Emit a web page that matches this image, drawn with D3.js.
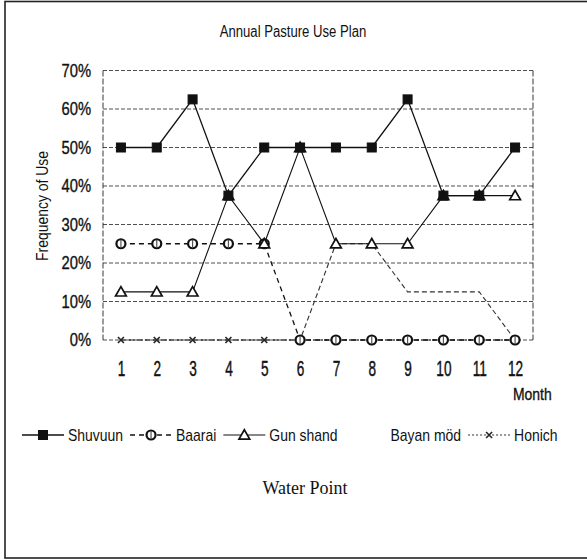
<!DOCTYPE html>
<html><head><meta charset="utf-8">
<script src="https://cdn.jsdelivr.net/npm/d3@7"></script>
<style>
body{margin:0;background:#fff;}
svg{display:block;}
</style></head>
<body><svg id="c" width="587" height="560"></svg>
<script>
// ---- data ----
const months = ["1","2","3","4","5","6","7","8","9","10","11","12"];
const shuvuun  = [0.5,0.5,0.625,0.375,0.5,0.5,0.5,0.5,0.625,0.375,0.375,0.5];
const baarai   = [0.25,0.25,0.25,0.25,0.25,0,0,0,0,0,0,0];
const gunShand = [0.125,0.125,0.125,0.375,0.25,0.5,0.25,0.25,0.25,0.375,0.375,0.375];
const bayanMod = [0,0,0,0,0,0,0.25,0.25,0.125,0.125,0.125,0];
const honich   = [0,0,0,0,0,0,0,0,0,0,0,0];
const yTicks = [0,0.1,0.2,0.3,0.4,0.5,0.6,0.7];
const seriesNames = ["Shuvuun","Baarai","Gun shand","Bayan möd","Honich"];
const titleText = "Annual Pasture Use Plan";
const yLabel = "Frequency of Use";
const xLabel = "Month";
const footer = "Water Point";

const series = [
  {name:seriesNames[0], values:shuvuun,  marker:"square",   dash:null,  color:"#111", width:1.3, sample:true},
  {name:seriesNames[1], values:baarai,   marker:"circle",   dash:"5,4", color:"#111", width:1.3, sample:true},
  {name:seriesNames[2], values:gunShand, marker:"triangle", dash:null,  color:"#111", width:1.1, sample:true},
  {name:seriesNames[3], values:bayanMod, marker:null,       dash:"5,3", color:"#333", width:1.1, sample:false},
  {name:seriesNames[4], values:honich,   marker:"cross",    dash:"2,2", color:"#333", width:1,   sample:true}
];

const SANS = "'Liberation Sans',Arial,sans-serif";
const SERIF = "'Liberation Serif','Times New Roman',serif";
function narrow(sel, f){
  sel.each(function(){
    const n=this; const w=n.getComputedTextLength();
    n.__w = w*(f||0.82);
    d3.select(n).attr("textLength",n.__w).attr("lengthAdjust","spacingAndGlyphs");
  });
  return sel;
}
function heavy(sel){ return sel.attr("stroke","#111").attr("stroke-width",0.35); }

const svg = d3.select("#c");
const L=103, R=533, T=70.5, B=340;
const x = d3.scalePoint().domain(months).range([L,R]).padding(0.5);
const y = d3.scaleLinear().domain([0,0.7]).range([B,T]);

// outer frame
svg.append("rect").attr("x",5).attr("y",1.5).attr("width",620).attr("height",556.5)
  .attr("fill","none").attr("stroke","#222").attr("stroke-width",1.6);

// title
narrow(svg.append("text").attr("x",293).attr("y",37).attr("text-anchor","middle")
  .style("font-family",SANS).attr("font-size",16).attr("fill","#111").text(titleText));

// gridlines
svg.append("g").selectAll("line").data(yTicks).join("line")
  .attr("x1",L).attr("x2",R).attr("y1",d=>y(d)).attr("y2",d=>y(d))
  .attr("stroke","#222").attr("stroke-width",0.8).attr("stroke-dasharray","4,2");
// plot left/right borders
[L,R].forEach(xx=>svg.append("line").attr("x1",xx).attr("x2",xx).attr("y1",T).attr("y2",B)
  .attr("stroke","#222").attr("stroke-width",0.9).attr("stroke-dasharray","6,2"));

// y axis
const ya = svg.append("g").attr("transform",`translate(${L},0)`)
  .call(d3.axisLeft(y).tickValues(yTicks).tickSize(0).tickPadding(12).tickFormat(d3.format(".0%")));
ya.select(".domain").remove();
heavy(narrow(ya.selectAll("text").attr("font-size",18).style("font-family",SANS).attr("fill","#111")));

// x axis
const xa = svg.append("g").attr("transform",`translate(0,376)`)
  .call(d3.axisBottom(x).tickSize(0));
xa.select(".domain").remove();
heavy(xa.selectAll("text").attr("y",0).attr("dy",0).attr("font-size",17)
  .style("font-family",SANS).attr("fill","#111")
  .attr("transform","scale(0.8,1.25)"));

// axis titles
narrow(svg.append("text").attr("transform","translate(48,206) rotate(-90)").attr("text-anchor","middle")
  .style("font-family",SANS).attr("font-size",17).attr("fill","#111").text(yLabel));
heavy(narrow(svg.append("text").attr("x",513).attr("y",400).style("font-family",SANS).attr("font-size",17)
  .attr("fill","#111").text(xLabel)));

// markers
function drawMarker(g, type, cx, cy){
  if(type==="square"){
    g.append("rect").attr("x",cx-4.5).attr("y",cy-4.5).attr("width",9).attr("height",9)
      .attr("fill","#111").attr("stroke","#111");
  } else if(type==="circle"){
    g.append("circle").attr("cx",cx).attr("cy",cy).attr("r",4.5).attr("fill","#fff")
      .attr("stroke","#111").attr("stroke-width",2.2);
    g.append("line").attr("x1",cx).attr("x2",cx).attr("y1",cy-4).attr("y2",cy+4)
      .attr("stroke","#555").attr("stroke-width",1.2);
  } else if(type==="triangle"){
    const p = d3.symbol().type(d3.symbolTriangle).size(50)();
    g.append("path").attr("d",p).attr("transform",`translate(${cx},${cy+1})`)
      .attr("fill","#fff").attr("stroke","#111").attr("stroke-width",1.7);
  } else if(type==="cross"){
    g.append("path").attr("d",`M${cx-3},${cy-3}L${cx+3},${cy+3}M${cx-3},${cy+3}L${cx+3},${cy-3}`)
      .attr("stroke","#222").attr("stroke-width",1.6);
  }
}

const line = d3.line().x((d,i)=>x(months[i])).y(d=>y(d));
const order = [4,3,1,2,0];
order.forEach(k=>{
  const s = series[k];
  const g = svg.append("g");
  g.append("path").attr("d",line(s.values)).attr("fill","none").attr("stroke",s.color)
    .attr("stroke-width",s.width).attr("stroke-dasharray",s.dash);
  if(s.marker) s.values.forEach((v,i)=>drawMarker(g,s.marker,x(months[i]),y(v)));
});

// legend
const ly = 435;
let lx = 22;
series.forEach(s=>{
  const g = svg.append("g");
  if(s.sample){
    g.append("line").attr("x1",lx).attr("x2",lx+42).attr("y1",ly).attr("y2",ly)
      .attr("stroke",s.color).attr("stroke-width",s.width).attr("stroke-dasharray",s.dash);
    if(s.marker) drawMarker(g,s.marker,lx+21,ly);
  }
  const t = g.append("text").attr("x",lx+46).attr("y",ly+6).style("font-family",SANS)
    .attr("font-size",17).attr("fill","#111").text(s.name);
  narrow(t);
  lx = lx + 46 + t.node().__w + 7;
});

// footer
svg.append("text").attr("x",305).attr("y",494).attr("text-anchor","middle")
  .style("font-family",SERIF).attr("font-size",18).attr("fill","#111").text(footer);
</script></body></html>
